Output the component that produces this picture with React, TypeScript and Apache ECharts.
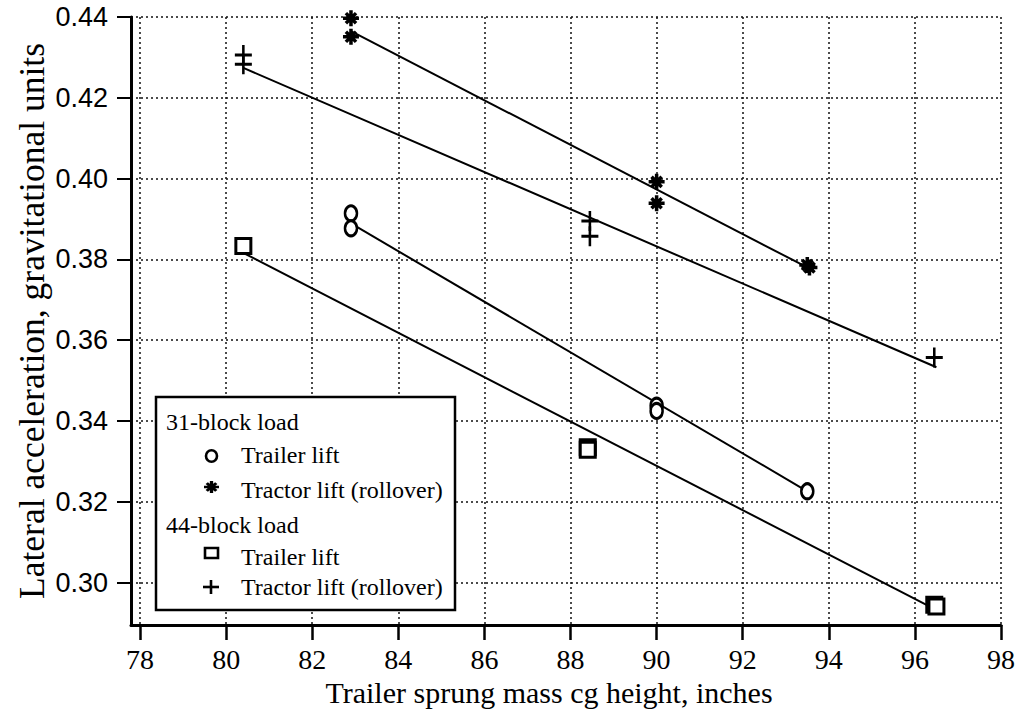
import React, { useEffect, useRef } from "react";
import * as echarts from "echarts";

// ---------- data ----------
const xTicks = [78, 80, 82, 84, 86, 88, 90, 92, 94, 96, 98];
const yTicks = [0.3, 0.32, 0.34, 0.36, 0.38, 0.4, 0.42, 0.44];

// 31-block load
const trailer31X = [82.9, 82.9, 90.0, 90.0, 93.5];
const trailer31Y = [0.3914, 0.3877, 0.3438, 0.3425, 0.3226];
const tractor31X = [82.9, 82.9, 90.0, 90.0, 93.5, 93.55];
const tractor31Y = [0.4397, 0.4351, 0.3992, 0.3939, 0.3786, 0.378];
// 44-block load
const trailer44X = [80.4, 88.4, 88.4, 96.45, 96.5];
const trailer44Y = [0.3833, 0.3335, 0.3329, 0.2945, 0.2941];
const tractor44X = [80.4, 80.4, 88.45, 88.45, 96.45];
const tractor44Y = [0.4306, 0.4283, 0.3895, 0.3857, 0.3557];

// fitted trend lines (end points)
const fit31TrailerX = [82.9, 93.5];
const fit31TrailerY = [0.3889, 0.3226];
const fit31TractorX = [82.9, 93.5];
const fit31TractorY = [0.4365, 0.378];
const fit44TrailerX = [80.4, 96.45];
const fit44TrailerY = [0.3816, 0.2935];
const fit44TractorX = [80.4, 96.5];
const fit44TractorY = [0.4274, 0.3533];

const legendTitles = ["31-block load", "44-block load"];
const legendItems = ["Trailer lift", "Tractor lift (rollover)"];
const xTitle = "Trailer sprung mass cg height, inches";
const yTitle = "Lateral acceleration, gravitational units";

// ---------- shapes ----------
const starD =
  "M0 7.8 L20 7.8 L20 12.2 L0 12.2 Z M7.8 0 L12.2 0 L12.2 20 L7.8 20 Z " +
  "M5.2 2.1 L17.9 14.8 L14.8 17.9 L2.1 5.2 Z " +
  "M14.8 2.1 L17.9 5.2 L5.2 17.9 L2.1 14.8 Z";
const plusD = "M0 8.5 L20 8.5 L20 11.5 L0 11.5 Z M8.5 0 L11.5 0 L11.5 20 L8.5 20 Z";

echarts.graphic.registerShape("star8", echarts.graphic.extendPath(starD, {}));

const zip = (xs: number[], ys: number[]) => xs.map((x, i) => [x, ys[i]]);

const SERIF = '"Liberation Serif", "Times New Roman", serif';
const SANS = '"Liberation Sans", Arial, sans-serif';

export default function App() {
  const ref = useRef<HTMLDivElement>(null);

  useEffect(() => {
    if (!ref.current) return;
    const chart = echarts.init(ref.current, null, { renderer: "svg" });

    const fitLine = (name: string, xs: number[], ys: number[]) => ({
      name,
      type: "line",
      data: zip(xs, ys),
      showSymbol: false,
      symbol: "none",
      lineStyle: { color: "#000", width: 2 },
      z: 3,
      silent: true,
    });

    const gridDots = { color: "#111", type: [2, 3], width: 1.5 };
    const legendFont = `24px ${SERIF}`;
    const legendText = (x: number, y: number, text: string) => ({
      type: "text",
      x,
      y,
      z: 102,
      style: {
        text,
        font: legendFont,
        fill: "#000",
        verticalAlign: "middle",
        backgroundColor: "#fff",
      },
    });

    chart.setOption({
      animation: false,
      backgroundColor: "#fff",
      grid: {
        left: 131,
        right: 20,
        top: 17,
        bottom: 95,
        containLabel: false,
        outerBoundsMode: "none",
      },
      xAxis: {
        type: "value",
        min: 77.79,
        max: 98,
        name: xTitle,
        nameLocation: "middle",
        nameGap: 52,
        nameMoveOverlap: false,
        nameTextStyle: {
          fontFamily: SERIF,
          fontSize: 30,
          color: "#000",
          padding: [0, 34, 0, 0],
        },
        axisLine: { show: true, onZero: false, lineStyle: { color: "#000", width: 3 } },
        axisTick: {
          show: true,
          length: 15,
          customValues: xTicks,
          lineStyle: { color: "#000", width: 2.5 },
        },
        axisLabel: {
          show: true,
          customValues: xTicks,
          formatter: (v: number) => String(v),
          fontFamily: SERIF,
          fontSize: 28,
          color: "#000",
          margin: 20,
        },
        splitLine: { show: true, lineStyle: gridDots },
      },
      yAxis: {
        type: "value",
        min: 0.2895,
        max: 0.44,
        name: yTitle,
        nameLocation: "middle",
        nameGap: 81,
        nameRotate: 90,
        nameMoveOverlap: false,
        nameTextStyle: { fontFamily: SERIF, fontSize: 35.5, color: "#000" },
        axisLine: { show: true, onZero: false, lineStyle: { color: "#000", width: 3 } },
        axisTick: {
          show: true,
          length: 14,
          customValues: yTicks,
          lineStyle: { color: "#000", width: 2 },
        },
        axisLabel: {
          customValues: yTicks,
          formatter: (v: number) => v.toFixed(2),
          fontFamily: SANS,
          fontSize: 27,
          color: "#000",
          margin: 23,
        },
        splitLine: { show: true, lineStyle: gridDots },
      },
      series: [
        fitLine("fit31Trailer", fit31TrailerX, fit31TrailerY),
        fitLine("fit31Tractor", fit31TractorX, fit31TractorY),
        fitLine("fit44Trailer", fit44TrailerX, fit44TrailerY),
        fitLine("fit44Tractor", fit44TractorX, fit44TractorY),
        {
          name: "31-block load, Trailer lift",
          type: "scatter",
          data: zip(trailer31X, trailer31Y),
          symbol: "circle",
          symbolSize: [12, 15],
          itemStyle: { color: "#fff", borderColor: "#000", borderWidth: 2.8, opacity: 1 },
          z: 5,
        },
        {
          name: "31-block load, Tractor lift (rollover)",
          type: "scatter",
          data: zip(tractor31X, tractor31Y),
          symbol: "path://" + starD,
          symbolSize: [16, 16],
          itemStyle: { color: "#000", opacity: 1 },
          z: 5,
        },
        {
          name: "44-block load, Trailer lift",
          type: "scatter",
          data: zip(trailer44X, trailer44Y),
          symbol: "rect",
          symbolSize: [15, 15],
          itemStyle: { color: "#fff", borderColor: "#000", borderWidth: 3, opacity: 1 },
          z: 5,
        },
        {
          name: "44-block load, Tractor lift (rollover)",
          type: "scatter",
          data: zip(tractor44X, tractor44Y),
          symbol: "path://" + plusD,
          symbolSize: [17, 20],
          itemStyle: { color: "#000", opacity: 1 },
          z: 5,
        },
      ],
      graphic: [
        {
          type: "rect",
          z: 100,
          shape: { x: 156, y: 397, width: 299, height: 213 },
          style: { fill: "#fff", stroke: "#000", lineWidth: 2.5 },
        },
        legendText(166, 422, legendTitles[0]),
        {
          type: "ellipse",
          z: 101,
          shape: { cx: 211.5, cy: 456, rx: 5.5, ry: 5.8 },
          style: { fill: "#fff", stroke: "#000", lineWidth: 2.6 },
        },
        legendText(241, 455, legendItems[0]),
        {
          type: "star8",
          z: 101,
          x: 204,
          y: 481,
          scaleX: 15 / 20,
          scaleY: 12 / 20,
          style: { fill: "#000" },
        },
        legendText(241, 490, legendItems[1]),
        legendText(166, 525, legendTitles[1]),
        {
          type: "rect",
          z: 101,
          shape: { x: 205, y: 548, width: 13, height: 10 },
          style: { fill: "#fff", stroke: "#000", lineWidth: 2.6 },
        },
        legendText(241, 557, legendItems[0]),
        {
          type: "line",
          z: 101,
          shape: { x1: 203, y1: 587, x2: 219, y2: 587 },
          style: { stroke: "#000", lineWidth: 2.6 },
        },
        {
          type: "line",
          z: 101,
          shape: { x1: 211, y1: 580, x2: 211, y2: 594 },
          style: { stroke: "#000", lineWidth: 2.6 },
        },
        legendText(241, 587, legendItems[1]),
      ],
    });

    return () => chart.dispose();
  }, []);

  return (
    <div
      ref={ref}
      style={{ position: "absolute", left: 0, top: 0, width: 1021, height: 720, background: "#fff" }}
    />
  );
}
